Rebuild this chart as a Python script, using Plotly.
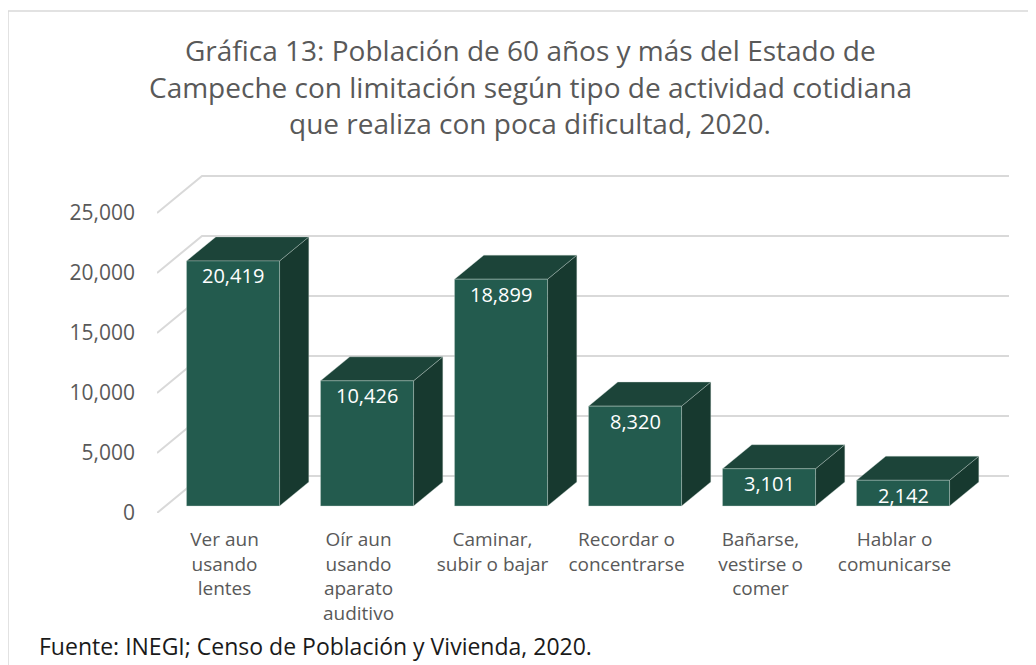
import plotly.graph_objects as go

# ---------------- data ----------------
categories = [
    "Ver aun<br>usando<br>lentes",
    "Oír aun<br>usando<br>aparato<br>auditivo",
    "Caminar,<br>subir o bajar",
    "Recordar o<br>concentrarse",
    "Bañarse,<br>vestirse o<br>comer",
    "Hablar o<br>comunicarse",
]
values = [20419, 10426, 18899, 8320, 3101, 2142]
y_tickvals = [0, 5000, 10000, 15000, 20000, 25000]
y_ticktext = ["0", "5,000", "10,000", "15,000", "20,000", "25,000"]

title_lines = [
    "Gráfica 13: Población de 60 años y más del Estado de",
    "Campeche con limitación según tipo de actividad cotidiana",
    "que realiza con poca dificultad, 2020.",
]
source_text = "Fuente: INEGI; Censo de Población y Vivienda, 2020."

# ---------------- geometry / style ----------------
OFF = 8                      # browser body margin
W, H = 1036 - OFF, 665 - OFF
L, R, T, B = 157 - OFF, 21, 170 - OFF, 152
PX_X = 134.0          # pixels per category unit
PX_Y = 0.012          # pixels per value unit
plot_w = W - L - R
plot_h = H - T - B
x0 = -(224.5 - 157) / PX_X
x1 = x0 + plot_w / PX_X
y1 = plot_h / PX_Y


def px(sx):
    return (sx - OFF - L) / plot_w


def py(sy):
    return (H - (sy - OFF) - B) / plot_h


DXU = 45 / PX_X       # full depth offset in x units
DYU = 37 / PX_Y       # full depth offset in y units
D0, D1 = 0.19, 0.84   # bar front / back depth fractions
HW = 46.5 / PX_X      # half bar width
back_right = x0 + (1009 - 157) / PX_X

FRONT = "#235B4E"
SIDE = "#17392F"
TOP = "#1C4439"
GRID = "#D9D9D9"
TXT = "#595959"
FONT = "Open Sans"

fig = go.Figure()

# back wall grid lines + side wall diagonals
for t in y_tickvals:
    fig.add_trace(go.Scatter(
        x=[x0, x0 + DXU, back_right], y=[t, t + DYU, t + DYU],
        mode="lines", line=dict(color=GRID, width=2),
        hoverinfo="skip", showlegend=False))

# bars
ddx = (D1 - D0) * DXU
ddy = (D1 - D0) * DYU
for i, v in enumerate(values):
    xl = i - HW + D0 * DXU
    xr = i + HW + D0 * DXU
    yb = D0 * DYU
    yt = v + D0 * DYU
    edge = dict(color="rgba(200,215,210,0.35)", width=1)
    fig.add_trace(go.Scatter(
        x=[xr, xr + ddx, xr + ddx, xr, xr], y=[yb, yb + ddy, yt + ddy, yt, yb],
        fill="toself", fillcolor=SIDE, mode="lines", line=edge,
        hoverinfo="skip", showlegend=False))
    fig.add_trace(go.Scatter(
        x=[xl, xr, xr + ddx, xl + ddx, xl], y=[yt, yt, yt + ddy, yt + ddy, yt],
        fill="toself", fillcolor=TOP, mode="lines", line=edge,
        hoverinfo="skip", showlegend=False))
    fig.add_trace(go.Scatter(
        x=[xl, xr, xr, xl, xl], y=[yb, yb, yt, yt, yb],
        fill="toself", fillcolor=FRONT, mode="lines", line=edge,
        hoverinfo="skip", showlegend=False))
    fig.add_annotation(
        x=i + D0 * DXU, y=yt, xref="x", yref="y", yshift=-15,
        text=f"{v:,}", showarrow=False,
        font=dict(family=FONT, size=20, color="white"))

# title
for line, sy in zip(title_lines, [50, 87, 123]):
    fig.add_annotation(
        x=px(530), y=py(sy), xref="paper", yref="paper",
        xanchor="center", yanchor="middle", showarrow=False, text=line,
        font=dict(family=FONT, size=28, color=TXT))
# source
fig.add_annotation(
    x=px(37), y=py(646), xref="paper", yref="paper",
    xanchor="left", yanchor="middle", showarrow=False, text=source_text,
    font=dict(family=FONT, size=23, color="#1a1a1a"))

# outer border
fig.add_shape(type="rect", xref="paper", yref="paper",
              x0=px(8), x1=px(1050), y0=py(680), y1=py(11),
              line=dict(color=GRID, width=1.5), layer="below")

fig.update_layout(
    width=W, height=H, autosize=False,
    margin=dict(l=L, r=R, t=T, b=B, pad=0, autoexpand=False),
    paper_bgcolor="white", plot_bgcolor="white",
    showlegend=False,
    xaxis=dict(range=[x0, x1], tickvals=list(range(len(categories))),
               ticktext=categories, showgrid=False, zeroline=False,
               showline=False, ticks="", ticklabelstandoff=13,
               tickfont=dict(family=FONT, size=19, color=TXT),
               fixedrange=True),
    yaxis=dict(range=[0, y1], tickvals=y_tickvals, ticktext=y_ticktext,
               showgrid=False, zeroline=False, showline=False, ticks="",
               ticklabelstandoff=21,
               tickfont=dict(family=FONT, size=21, color=TXT),
               fixedrange=True),
)

fig.write_html("out.html")
